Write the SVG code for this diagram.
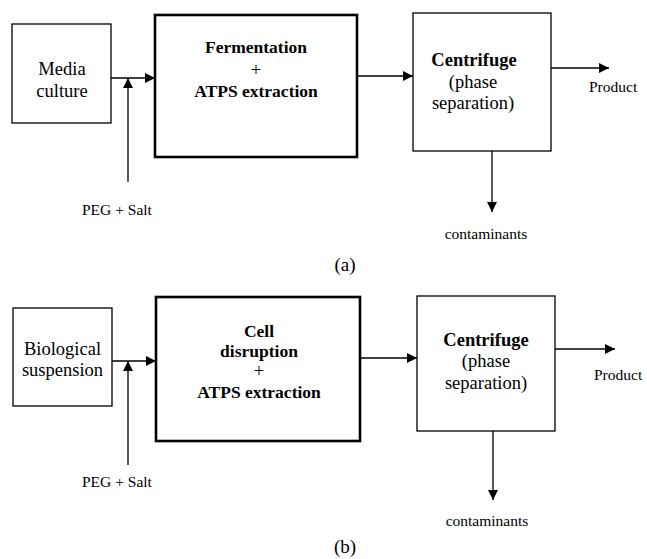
<svg xmlns="http://www.w3.org/2000/svg" width="647" height="559" viewBox="0 0 647 559" font-family="'Liberation Serif', 'Times New Roman', 'DejaVu Serif', serif">
<defs>
<style>
.box{fill:#fff;stroke:#000;stroke-width:1.3}
.thick{fill:#fff;stroke:#000;stroke-width:2.6}
.ln{stroke:#000;stroke-width:1.3;fill:none}
.t18{font-size:18.5px;text-anchor:middle;fill:#000}
.b18{font-size:17.5px;font-weight:bold;text-anchor:middle;fill:#000}
.b19{font-size:18.5px;font-weight:bold;text-anchor:middle;fill:#000}
.s16{font-size:15.5px;fill:#000}
.lab{font-size:19px;text-anchor:middle;fill:#000}
</style>
<marker id="ah" viewBox="0 0 10 10" refX="10" refY="5" markerWidth="10" markerHeight="10" markerUnits="userSpaceOnUse" orient="auto">
<path d="M0,0 L10,5 L0,10 z" fill="#000"/>
</marker>
</defs>
<rect width="647" height="559" fill="#fff"/>
<g id="connectors">
<line class="ln" x1="111" y1="78" x2="155" y2="78" marker-end="url(#ah)"/>
<line class="ln" x1="128" y1="182" x2="128" y2="78" marker-end="url(#ah)"/>
<line class="ln" x1="357" y1="76" x2="413" y2="76" marker-end="url(#ah)"/>
<line class="ln" x1="551" y1="68" x2="609" y2="68" marker-end="url(#ah)"/>
<line class="ln" x1="492" y1="151" x2="492" y2="212" marker-end="url(#ah)"/>
<line class="ln" x1="112" y1="361" x2="156" y2="361" marker-end="url(#ah)"/>
<line class="ln" x1="128" y1="465" x2="128" y2="361" marker-end="url(#ah)"/>
<line class="ln" x1="360" y1="358" x2="417" y2="358" marker-end="url(#ah)"/>
<line class="ln" x1="555" y1="349" x2="615" y2="349" marker-end="url(#ah)"/>
<line class="ln" x1="493" y1="431" x2="493" y2="500" marker-end="url(#ah)"/>
</g>
<g id="media">
<rect class="box" x="12" y="24" width="99" height="99"/>
<text class="t18" x="62" y="75">Media</text>
<text class="t18" x="62" y="97">culture</text>
</g>
<g id="fermentation">
<rect class="thick" x="155" y="15" width="202" height="142"/>
<text class="b18" x="256" y="53">Fermentation</text>
<text class="t18" x="256" y="76">+</text>
<text class="b18" x="256" y="97">ATPS extraction</text>
</g>
<g id="centrifugeA">
<rect class="box" x="413" y="13" width="138" height="138"/>
<text class="b19" x="474" y="66">Centrifuge</text>
<text class="t18" x="473" y="88">(phase</text>
<text class="t18" x="473" y="109">separation)</text>
</g>
<g id="labelsA">
<text class="s16" x="82" y="215">PEG + Salt</text>
<text class="s16" x="589" y="92">Product</text>
<text class="s16" x="486" y="239" text-anchor="middle">contaminants</text>
<text class="lab" x="345" y="271">(a)</text>
</g>
<g id="bio">
<rect class="box" x="13" y="308" width="99" height="98"/>
<text class="t18" x="62.5" y="355">Biological</text>
<text class="t18" x="62.5" y="376">suspension</text>
</g>
<g id="disruption">
<rect class="thick" x="156" y="297" width="204" height="144"/>
<text class="b18" x="259" y="337">Cell</text>
<text class="b18" x="259" y="357">disruption</text>
<text class="t18" x="259" y="377">+</text>
<text class="b18" x="259" y="398">ATPS extraction</text>
</g>
<g id="centrifugeB">
<rect class="box" x="417" y="296" width="138" height="135"/>
<text class="b19" x="486" y="346">Centrifuge</text>
<text class="t18" x="486" y="367">(phase</text>
<text class="t18" x="486" y="389">separation)</text>
</g>
<g id="labelsB">
<text class="s16" x="82" y="487">PEG + Salt</text>
<text class="s16" x="594" y="380">Product</text>
<text class="s16" x="487" y="526" text-anchor="middle">contaminants</text>
<text class="lab" x="345" y="553">(b)</text>
</g>
</svg>
